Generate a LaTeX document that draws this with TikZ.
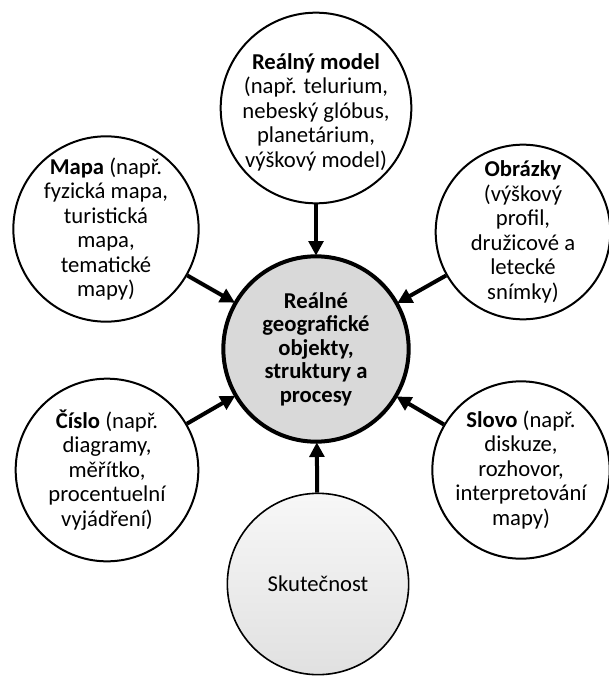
\documentclass[tikz,border=0pt]{standalone}
\usepackage{fontspec}
\setmainfont{Carlito}
\usetikzlibrary{arrows.meta}

\begin{document}
\begin{tikzpicture}[x=0.75pt,y=-0.75pt,
  every node/.style={font=\fontsize{17}{18.4}\selectfont},
  bubble/.style={circle,draw=black,line width=1.5pt,fill=white,inner sep=0pt},
  hub/.style={circle,draw=black,line width=3pt,fill={rgb,255:red,217;green,217;blue,217},inner sep=0pt,minimum size=139pt},
  source/.style={circle,draw=black,line width=1.2pt,top color=gray!6,bottom color=gray!24,inner sep=0pt,minimum size=136pt},
  caption/.style={align=center,inner sep=0pt},
  feed/.style={line width=3pt,-{Triangle[length=11pt,width=11pt]},shorten >=-1pt}
]
\useasboundingbox (0,0) rectangle (608,681);

% outer circles
\node[bubble,minimum size=143pt] (model)  at (316,108) {};
\node[bubble,minimum size=139pt] (mapa)   at (106,229) {};
\node[bubble,minimum size=131pt] (obrazky) at (523,232) {};
\node[bubble,minimum size=137pt] (cislo)  at (107,470) {};
\node[bubble,minimum size=133pt] (slovo)  at (521,470) {};

% central and source circles
\node[hub] (hub) at (316,349) {};
\node[source] (real) at (318,584) {};

% captions
\node[caption] (model-t) at (316,112) {\textbf{Reálný model}\\(např. telurium,\\nebeský glóbus,\\planetárium,\\výškový model)};
\node[caption] (mapa-t) at (mapa) {\textbf{Mapa} (např.\\fyzická mapa,\\turistická\\mapa,\\tematické\\mapy)};
\node[caption] (obrazky-t) at (obrazky) {\textbf{Obrázky}\\(výškový\\profil,\\družicové a\\letecké\\snímky)};
\node[caption] (cislo-t) at (cislo) {\textbf{Číslo} (např.\\diagramy,\\měřítko,\\procentuelní\\vyjádření)};
\node[caption] (slovo-t) at (slovo) {\textbf{Slovo} (např.\\diskuze,\\rozhovor,\\interpretování\\mapy)};
\node[caption,font=\fontsize{17}{17.6}\selectfont\bfseries] (hub-t) at (hub) {Reálné\\geografické\\objekty,\\struktury a\\procesy};
\node[caption] (real-t) at (real) {Skutečnost};

% arrows into the centre
\draw[feed] (model) -- (hub);
\draw[feed] (mapa) -- (hub);
\draw[feed] (obrazky) -- (hub);
\draw[feed] (cislo) -- (hub);
\draw[feed] (slovo) -- (hub);
\draw[feed] (real) -- (hub);
\end{tikzpicture}
\end{document}
